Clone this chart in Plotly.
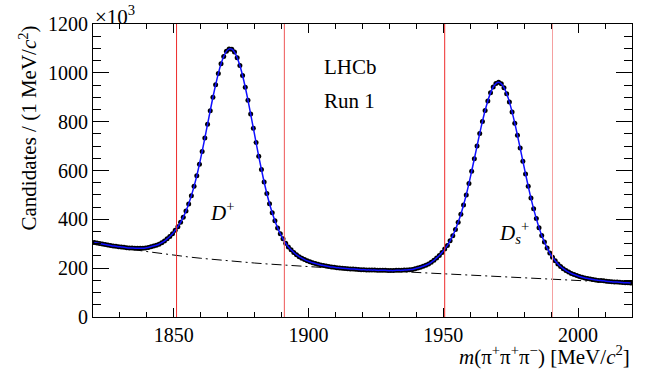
import numpy as np
import plotly.graph_objects as go

# 1 MeV bins from 1820 to 2020, candidates in units of 10^3
mass = np.arange(1820.5, 2020.0, 1.0)
candidates = [
    305, 303, 301, 299, 297, 295, 293, 291, 290, 288,
    287, 286, 284, 283, 283, 282, 282, 282, 282, 283,
    285, 288, 291, 294, 298, 304, 311, 320, 330, 341,
    355, 370, 388, 409, 434, 463, 497, 535, 578, 626,
    678, 733, 789, 845, 900, 951, 997, 1037, 1067, 1088,
    1098, 1097, 1085, 1062, 1030, 989, 941, 888, 831, 773,
    715, 658, 604, 553, 506, 464, 427, 394, 365, 341,
    320, 302, 287, 275, 264, 255, 247, 241, 235, 230,
    226, 222, 219, 216, 213, 211, 209, 207, 205, 204,
    202, 201, 200, 199, 198, 197, 197, 196, 195, 194,
    194, 193, 193, 192, 192, 191, 191, 191, 191, 190,
    190, 190, 191, 191, 191, 192, 193, 194, 195, 198,
    201, 204, 208, 212, 217, 224, 232, 242, 252, 264,
    278, 293, 312, 333, 358, 388, 421, 459, 500, 547,
    597, 648, 700, 752, 801, 846, 885, 918, 942, 956,
    961, 955, 939, 914, 881, 840, 794, 744, 692, 638,
    586, 535, 487, 443, 403, 366, 334, 307, 283, 262,
    245, 230, 217, 207, 198, 190, 184, 178, 174, 170,
    166, 163, 160, 158, 156, 154, 152, 150, 149, 148,
    146, 145, 144, 143, 143, 142, 141, 140, 140, 139,
]

# combinatorial background component of the fit
bkg_mass = [1820, 1825, 1830, 1835, 1840, 1845, 1850, 1855, 1860, 1865, 1870,
            1875, 1880, 1885, 1890, 1900, 1910, 1920, 1930, 1940, 1950, 1960,
            1970, 1980, 1990, 2000, 2010, 2020]
bkg_vals = [306, 295, 285, 276, 268, 260, 253, 246.5, 240.5, 235, 230,
            225.5, 221, 217, 213, 206, 199.5, 193.5, 188, 182.5, 177, 171.5,
            166, 160.5, 155, 149.5, 144, 138.5]

# mass windows
window_edges = [1851, 1891, 1950.5, 1990.5]
window_colors = ["#ee2a2a", "#ee5555", "#ee2a2a", "#f5a0a0"]

xticks = [1850, 1900, 1950, 2000]
yticks = [0, 200, 400, 600, 800, 1000, 1200]

FONT = "Liberation Serif"

fig = go.Figure()

fig.add_trace(go.Scatter(
    x=bkg_mass, y=bkg_vals, mode="lines",
    line=dict(color="black", width=1, dash="10px,4px,2px,4px"),
    showlegend=False, hoverinfo="skip"
))
fig.add_trace(go.Scatter(
    x=mass, y=candidates, mode="markers",
    marker=dict(color="black", size=5),
    showlegend=False
))
fig.add_trace(go.Scatter(
    x=mass, y=candidates, mode="lines",
    line=dict(color="#1010ff", width=1.5, shape="spline"),
    showlegend=False, hoverinfo="skip"
))

for xe, c in zip(window_edges, window_colors):
    fig.add_shape(type="line", xref="x", yref="paper", x0=xe, x1=xe, y0=0, y1=1,
                  line=dict(color=c, width=1))

ann = dict(showarrow=False, font=dict(family=FONT, size=21, color="black"))
fig.add_annotation(text="LHCb", xref="paper", yref="paper", x=0.4245, y=0.853,
                   xanchor="left", yanchor="middle", **ann)
fig.add_annotation(text="Run 1", xref="paper", yref="paper", x=0.4245, y=0.737,
                   xanchor="left", yanchor="middle", **ann)
fig.add_annotation(text="<i>D</i><sup>+</sup>", xref="paper", yref="paper", x=0.213, y=0.36,
                   xanchor="left", yanchor="middle", **ann)
fig.add_annotation(text="<i>D</i><sub><i>s</i></sub><sup>+</sup>", xref="paper", yref="paper",
                   x=0.75, y=0.29, xanchor="left", yanchor="middle", **ann)
fig.add_annotation(text="\u00d710<sup>3</sup>", xref="paper", yref="paper", x=0, y=1.03,
                   xanchor="left", yanchor="middle", **ann)
fig.add_annotation(text="<i>m</i>(\u03c0<sup>+</sup>\u03c0<sup>+</sup>\u03c0<sup>\u2212</sup>) [MeV/<i>c</i><sup>2</sup>]",
                   xref="paper", yref="paper", x=1, y=-0.13,
                   xanchor="right", yanchor="middle", **ann)
fig.add_annotation(text="Candidates / (1 MeV/<i>c</i><sup>2</sup>)", textangle=-90,
                   xref="paper", yref="paper", x=0, y=1, xshift=-65,
                   xanchor="center", yanchor="top", **ann)

axis_common = dict(
    showline=True, linecolor="black", linewidth=1, mirror="ticks",
    ticks="inside", tickcolor="black", showgrid=False, zeroline=False,
    tickfont=dict(family=FONT, size=20, color="black"),
)
fig.update_xaxes(range=[1820, 2020], tickvals=xticks, ticklen=9,
                 minor=dict(dtick=10, tick0=1820, ticks="inside", ticklen=5, tickcolor="black"),
                 **axis_common)
fig.update_yaxes(range=[0, 1200], tickvals=yticks, ticklen=16,
                 minor=dict(dtick=50, tick0=0, ticks="inside", ticklen=8, tickcolor="black"),
                 **axis_common)

fig.update_layout(
    width=664, height=370,
    margin=dict(l=93, r=32, t=24, b=53),
    plot_bgcolor="white", paper_bgcolor="white",
    font=dict(family=FONT, color="black"),
)

fig.write_html("out.html", config={"displayModeBar": False},
               post_script="document.body.style.margin='0';")
